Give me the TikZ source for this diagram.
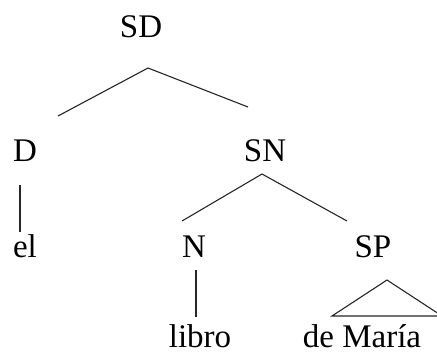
\documentclass[tikz,border=0pt]{standalone}
\usepackage{fontspec}
\setmainfont{Liberation Serif}

\begin{document}
\begin{tikzpicture}
	[
		x=1pt, y=-1pt,
		every node/.style = {anchor=base, inner sep=0pt, font=\fontsize{33}{40}\selectfont},
		branch/.style = {line width=1.1pt, black!85},
	]
  \useasboundingbox (0,0) rectangle (437,354);

  % categories and words
  \node (SD) at (141,37) {SD};
  \node (D) at (25,161) {D};
  \node (SN) at (265,161) {SN};
  \node (el) at (25,257) {el};
  \node (N) at (194,257) {N};
  \node (SP) at (373,257) {SP};
  \node (libro) at (200,347) {libro};
  \node (Maria) at (362,347) {de María};

  % branch ends
  \coordinate (SDtop) at (148,68);
  \coordinate (SDl) at (58,116);
  \coordinate (SDr) at (248,107);
  \coordinate (Dtop) at (20,185);
  \coordinate (Dbot) at (20,232);
  \coordinate (SNtop) at (262,174);
  \coordinate (SNl) at (182,221);
  \coordinate (SNr) at (347,221);
  \coordinate (Ntop) at (196,270);
  \coordinate (Nbot) at (196,317);
  \coordinate (SPtop) at (387,280);
  \coordinate (SPl) at (332,316);
  \coordinate (SPr) at (442,316);

  \draw[branch] (SDl) -- (SDtop) -- (SDr);
  \draw[branch] (Dtop) -- (Dbot);
  \draw[branch] (SNl) -- (SNtop) -- (SNr);
  \draw[branch] (Ntop) -- (Nbot);
  \draw[branch] (SPl) -- (SPtop) -- (SPr) -- cycle;

\end{tikzpicture}
\end{document}
